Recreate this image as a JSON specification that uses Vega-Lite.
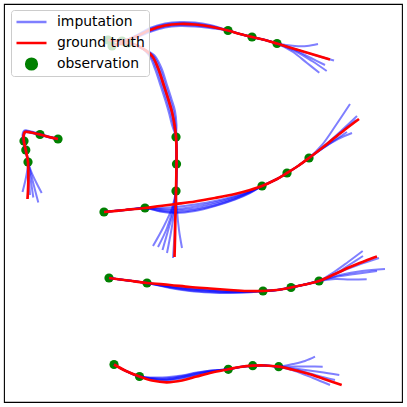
{
 "$schema": "https://vega.github.io/schema/vega-lite/v6.json",
 "width": 398, "height": 398,
 "autosize": "none",
 "padding": {"left": 4, "top": 4, "right": 5, "bottom": 5},
 "background": "white",
 "config": {"view": {"stroke": "#000000", "strokeWidth": 1.1}},
 "datasets": {
  "observed": [
   {"t":"T1","x":58,"y":139},{"t":"T1","x":40,"y":134.5},{"t":"T1","x":24,"y":141},{"t":"T1","x":25.8,"y":150},{"t":"T1","x":28,"y":162},
   {"t":"T2","x":108,"y":40},{"t":"T2","x":122,"y":41},{"t":"T2","x":228,"y":30.5},{"t":"T2","x":252,"y":37},{"t":"T2","x":277,"y":43.5},
   {"t":"T3","x":112,"y":46},{"t":"T3","x":128,"y":43},{"t":"T3","x":176,"y":137},{"t":"T3","x":176.5,"y":164},{"t":"T3","x":176,"y":191},
   {"t":"T4","x":104,"y":212},{"t":"T4","x":145,"y":208},{"t":"T4","x":262,"y":186},{"t":"T4","x":287,"y":173},{"t":"T4","x":309,"y":158},
   {"t":"T5","x":109,"y":278},{"t":"T5","x":147,"y":283},{"t":"T5","x":263,"y":291},{"t":"T5","x":291,"y":287.5},{"t":"T5","x":319,"y":281},
   {"t":"T6","x":114,"y":364.5},{"t":"T6","x":139.5,"y":376.5},{"t":"T6","x":228.3,"y":369.3},{"t":"T6","x":252.7,"y":365.7},{"t":"T6","x":278.7,"y":366.7}
  ],
  "truth": [
   {"t":"T1","i":0,"x":58,"y":139},{"t":"T1","i":1,"x":49,"y":137},{"t":"T1","i":2,"x":40,"y":134.5},{"t":"T1","i":3,"x":31,"y":132.5},{"t":"T1","i":4,"x":25,"y":132},{"t":"T1","i":5,"x":23.5,"y":136},{"t":"T1","i":6,"x":24,"y":142},{"t":"T1","i":7,"x":25.5,"y":149},{"t":"T1","i":8,"x":27,"y":156},{"t":"T1","i":9,"x":28,"y":162},{"t":"T1","i":10,"x":28.3,"y":172},{"t":"T1","i":11,"x":28.3,"y":182},{"t":"T1","i":12,"x":28,"y":191},{"t":"T1","i":13,"x":27.5,"y":199},
   {"t":"T2","i":0,"x":108,"y":40},{"t":"T2","i":1,"x":122,"y":41},{"t":"T2","i":2,"x":135,"y":37},{"t":"T2","i":3,"x":150,"y":30},{"t":"T2","i":4,"x":165,"y":25.5},{"t":"T2","i":5,"x":180,"y":24},{"t":"T2","i":6,"x":195,"y":24.5},{"t":"T2","i":7,"x":210,"y":26.5},{"t":"T2","i":8,"x":228,"y":30.5},{"t":"T2","i":9,"x":240,"y":34},{"t":"T2","i":10,"x":252,"y":37},{"t":"T2","i":11,"x":265,"y":40},{"t":"T2","i":12,"x":277,"y":43.5},{"t":"T2","i":13,"x":293,"y":48.5},{"t":"T2","i":14,"x":310,"y":53.5},{"t":"T2","i":15,"x":330,"y":59.5},
   {"t":"T3","i":0,"x":112,"y":46},{"t":"T3","i":1,"x":128,"y":43},{"t":"T3","i":2,"x":140,"y":47},{"t":"T3","i":3,"x":152,"y":56},{"t":"T3","i":4,"x":158,"y":68},{"t":"T3","i":5,"x":164,"y":86},{"t":"T3","i":6,"x":168.5,"y":100},{"t":"T3","i":7,"x":172,"y":112},{"t":"T3","i":8,"x":174.5,"y":125},{"t":"T3","i":9,"x":176,"y":137},{"t":"T3","i":10,"x":176.5,"y":150},{"t":"T3","i":11,"x":176.5,"y":164},{"t":"T3","i":12,"x":176.3,"y":178},{"t":"T3","i":13,"x":176,"y":191},{"t":"T3","i":14,"x":175.7,"y":205},{"t":"T3","i":15,"x":175.3,"y":220},{"t":"T3","i":16,"x":175,"y":238},{"t":"T3","i":17,"x":174.5,"y":257},
   {"t":"T4","i":0,"x":104,"y":212},{"t":"T4","i":1,"x":125,"y":210},{"t":"T4","i":2,"x":145,"y":208},{"t":"T4","i":3,"x":160,"y":206},{"t":"T4","i":4,"x":176,"y":204},{"t":"T4","i":5,"x":195,"y":201.5},{"t":"T4","i":6,"x":215,"y":198},{"t":"T4","i":7,"x":235,"y":194},{"t":"T4","i":8,"x":250,"y":190},{"t":"T4","i":9,"x":262,"y":186},{"t":"T4","i":10,"x":275,"y":180},{"t":"T4","i":11,"x":287,"y":173},{"t":"T4","i":12,"x":298,"y":166},{"t":"T4","i":13,"x":309,"y":158},{"t":"T4","i":14,"x":322,"y":148},{"t":"T4","i":15,"x":335,"y":137.5},{"t":"T4","i":16,"x":347,"y":128},{"t":"T4","i":17,"x":359,"y":119},
   {"t":"T5","i":0,"x":109,"y":278},{"t":"T5","i":1,"x":128,"y":280.5},{"t":"T5","i":2,"x":147,"y":283},{"t":"T5","i":3,"x":170,"y":285},{"t":"T5","i":4,"x":190,"y":287},{"t":"T5","i":5,"x":210,"y":288.5},{"t":"T5","i":6,"x":230,"y":290},{"t":"T5","i":7,"x":247,"y":291},{"t":"T5","i":8,"x":263,"y":291},{"t":"T5","i":9,"x":277,"y":290},{"t":"T5","i":10,"x":291,"y":287.5},{"t":"T5","i":11,"x":305,"y":284.5},{"t":"T5","i":12,"x":319,"y":281},{"t":"T5","i":13,"x":335,"y":274},{"t":"T5","i":14,"x":350,"y":267},{"t":"T5","i":15,"x":365,"y":261},{"t":"T5","i":16,"x":377,"y":256.5},
   {"t":"T6","i":0,"x":114,"y":364.5},{"t":"T6","i":1,"x":126,"y":371},{"t":"T6","i":2,"x":139.5,"y":376.5},{"t":"T6","i":3,"x":152,"y":380.5},{"t":"T6","i":4,"x":166.7,"y":382.3},{"t":"T6","i":5,"x":182,"y":380.5},{"t":"T6","i":6,"x":196.7,"y":376.5},{"t":"T6","i":7,"x":212,"y":372.5},{"t":"T6","i":8,"x":228.3,"y":369.3},{"t":"T6","i":9,"x":240,"y":367},{"t":"T6","i":10,"x":252.7,"y":365.7},{"t":"T6","i":11,"x":265,"y":365.5},{"t":"T6","i":12,"x":278.7,"y":366.7},{"t":"T6","i":13,"x":292,"y":369.5},{"t":"T6","i":14,"x":306.7,"y":373.3},{"t":"T6","i":15,"x":324,"y":379},{"t":"T6","i":16,"x":341.7,"y":385}
  ],
  "imputed": [
   {"t":"T1","s":1,"i":0,"x":58,"y":139},{"t":"T1","s":1,"i":1,"x":49,"y":136.5},{"t":"T1","s":1,"i":2,"x":40,"y":134},{"t":"T1","s":1,"i":3,"x":31,"y":131.5},{"t":"T1","s":1,"i":4,"x":24.5,"y":130.5},{"t":"T1","s":1,"i":5,"x":22.5,"y":135},{"t":"T1","s":1,"i":6,"x":23.5,"y":142},{"t":"T1","s":1,"i":7,"x":25,"y":149},{"t":"T1","s":1,"i":8,"x":26.7,"y":156},{"t":"T1","s":1,"i":9,"x":28,"y":162},{"t":"T1","s":1,"i":10,"x":27,"y":172},{"t":"T1","s":1,"i":11,"x":25,"y":182},{"t":"T1","s":1,"i":12,"x":22.5,"y":192},
   {"t":"T1","s":2,"i":0,"x":58,"y":139},{"t":"T1","s":2,"i":1,"x":49,"y":137},{"t":"T1","s":2,"i":2,"x":40,"y":134.5},{"t":"T1","s":2,"i":3,"x":31,"y":132},{"t":"T1","s":2,"i":4,"x":25,"y":131},{"t":"T1","s":2,"i":5,"x":23,"y":136},{"t":"T1","s":2,"i":6,"x":24,"y":142},{"t":"T1","s":2,"i":7,"x":25.5,"y":149},{"t":"T1","s":2,"i":8,"x":27,"y":156},{"t":"T1","s":2,"i":9,"x":28,"y":162},{"t":"T1","s":2,"i":10,"x":28.5,"y":172},{"t":"T1","s":2,"i":11,"x":29.3,"y":184},{"t":"T1","s":2,"i":12,"x":30,"y":195},
   {"t":"T1","s":3,"i":0,"x":58,"y":139},{"t":"T1","s":3,"i":1,"x":49,"y":137.5},{"t":"T1","s":3,"i":2,"x":40,"y":135},{"t":"T1","s":3,"i":3,"x":31,"y":133},{"t":"T1","s":3,"i":4,"x":25.5,"y":132.5},{"t":"T1","s":3,"i":5,"x":24,"y":136.5},{"t":"T1","s":3,"i":6,"x":24.5,"y":142},{"t":"T1","s":3,"i":7,"x":25.8,"y":149},{"t":"T1","s":3,"i":8,"x":27.2,"y":156},{"t":"T1","s":3,"i":9,"x":28,"y":162},{"t":"T1","s":3,"i":10,"x":29.5,"y":172},{"t":"T1","s":3,"i":11,"x":31.5,"y":185},{"t":"T1","s":3,"i":12,"x":33.3,"y":197.5},
   {"t":"T1","s":4,"i":0,"x":58,"y":139},{"t":"T1","s":4,"i":1,"x":49,"y":137},{"t":"T1","s":4,"i":2,"x":40,"y":134.5},{"t":"T1","s":4,"i":3,"x":31,"y":132.5},{"t":"T1","s":4,"i":4,"x":25,"y":132},{"t":"T1","s":4,"i":5,"x":23.5,"y":136},{"t":"T1","s":4,"i":6,"x":24,"y":142},{"t":"T1","s":4,"i":7,"x":25.5,"y":149},{"t":"T1","s":4,"i":8,"x":27,"y":156},{"t":"T1","s":4,"i":9,"x":28,"y":162},{"t":"T1","s":4,"i":10,"x":30.5,"y":172},{"t":"T1","s":4,"i":11,"x":34,"y":186},{"t":"T1","s":4,"i":12,"x":38.3,"y":202.5},
   {"t":"T1","s":5,"i":0,"x":58,"y":139},{"t":"T1","s":5,"i":1,"x":49,"y":137},{"t":"T1","s":5,"i":2,"x":40,"y":134.5},{"t":"T1","s":5,"i":3,"x":31,"y":132.5},{"t":"T1","s":5,"i":4,"x":25,"y":132},{"t":"T1","s":5,"i":5,"x":23.5,"y":136},{"t":"T1","s":5,"i":6,"x":24,"y":142},{"t":"T1","s":5,"i":7,"x":25.5,"y":149},{"t":"T1","s":5,"i":8,"x":27,"y":156},{"t":"T1","s":5,"i":9,"x":28,"y":162},{"t":"T1","s":5,"i":10,"x":31,"y":171},{"t":"T1","s":5,"i":11,"x":36,"y":182},{"t":"T1","s":5,"i":12,"x":41.7,"y":193},

   {"t":"T2","s":1,"i":0,"x":108,"y":40},{"t":"T2","s":1,"i":1,"x":122,"y":41},{"t":"T2","s":1,"i":2,"x":135,"y":36},{"t":"T2","s":1,"i":3,"x":150,"y":28},{"t":"T2","s":1,"i":4,"x":165,"y":23.5},{"t":"T2","s":1,"i":5,"x":180,"y":22},{"t":"T2","s":1,"i":6,"x":195,"y":22.5},{"t":"T2","s":1,"i":7,"x":210,"y":25},{"t":"T2","s":1,"i":8,"x":228,"y":30.5},{"t":"T2","s":1,"i":9,"x":240,"y":34},{"t":"T2","s":1,"i":10,"x":252,"y":37},{"t":"T2","s":1,"i":11,"x":265,"y":40},{"t":"T2","s":1,"i":12,"x":277,"y":43.5},{"t":"T2","s":1,"i":13,"x":295,"y":46},{"t":"T2","s":1,"i":14,"x":307,"y":46},{"t":"T2","s":1,"i":15,"x":318,"y":44},
   {"t":"T2","s":2,"i":0,"x":108,"y":40},{"t":"T2","s":2,"i":1,"x":122,"y":41},{"t":"T2","s":2,"i":2,"x":135,"y":36.5},{"t":"T2","s":2,"i":3,"x":150,"y":29},{"t":"T2","s":2,"i":4,"x":165,"y":24.5},{"t":"T2","s":2,"i":5,"x":180,"y":23},{"t":"T2","s":2,"i":6,"x":195,"y":23.5},{"t":"T2","s":2,"i":7,"x":210,"y":25.8},{"t":"T2","s":2,"i":8,"x":228,"y":30.5},{"t":"T2","s":2,"i":9,"x":240,"y":34},{"t":"T2","s":2,"i":10,"x":252,"y":37},{"t":"T2","s":2,"i":11,"x":265,"y":40},{"t":"T2","s":2,"i":12,"x":277,"y":43.5},{"t":"T2","s":2,"i":13,"x":298,"y":50},{"t":"T2","s":2,"i":14,"x":316,"y":55.5},{"t":"T2","s":2,"i":15,"x":334,"y":60.5},
   {"t":"T2","s":3,"i":0,"x":108,"y":40},{"t":"T2","s":3,"i":1,"x":122,"y":41},{"t":"T2","s":3,"i":2,"x":135,"y":37},{"t":"T2","s":3,"i":3,"x":150,"y":30},{"t":"T2","s":3,"i":4,"x":165,"y":25.5},{"t":"T2","s":3,"i":5,"x":180,"y":24},{"t":"T2","s":3,"i":6,"x":195,"y":24.5},{"t":"T2","s":3,"i":7,"x":210,"y":26.5},{"t":"T2","s":3,"i":8,"x":228,"y":30.5},{"t":"T2","s":3,"i":9,"x":240,"y":34},{"t":"T2","s":3,"i":10,"x":252,"y":37},{"t":"T2","s":3,"i":11,"x":265,"y":40},{"t":"T2","s":3,"i":12,"x":277,"y":43.5},{"t":"T2","s":3,"i":13,"x":295,"y":51},{"t":"T2","s":3,"i":14,"x":312,"y":61},{"t":"T2","s":3,"i":15,"x":326.7,"y":71},
   {"t":"T2","s":4,"i":0,"x":108,"y":40},{"t":"T2","s":4,"i":1,"x":122,"y":41},{"t":"T2","s":4,"i":2,"x":135,"y":37.5},{"t":"T2","s":4,"i":3,"x":150,"y":31},{"t":"T2","s":4,"i":4,"x":165,"y":26.5},{"t":"T2","s":4,"i":5,"x":180,"y":25},{"t":"T2","s":4,"i":6,"x":195,"y":25.5},{"t":"T2","s":4,"i":7,"x":210,"y":27.2},{"t":"T2","s":4,"i":8,"x":228,"y":30.5},{"t":"T2","s":4,"i":9,"x":240,"y":34},{"t":"T2","s":4,"i":10,"x":252,"y":37},{"t":"T2","s":4,"i":11,"x":265,"y":40},{"t":"T2","s":4,"i":12,"x":277,"y":43.5},{"t":"T2","s":4,"i":13,"x":293,"y":52},{"t":"T2","s":4,"i":14,"x":307,"y":63},{"t":"T2","s":4,"i":15,"x":319.3,"y":72.7},
   {"t":"T2","s":5,"i":0,"x":108,"y":40},{"t":"T2","s":5,"i":1,"x":122,"y":41},{"t":"T2","s":5,"i":2,"x":135,"y":38},{"t":"T2","s":5,"i":3,"x":150,"y":32},{"t":"T2","s":5,"i":4,"x":165,"y":27.5},{"t":"T2","s":5,"i":5,"x":180,"y":26},{"t":"T2","s":5,"i":6,"x":195,"y":26.5},{"t":"T2","s":5,"i":7,"x":210,"y":28},{"t":"T2","s":5,"i":8,"x":228,"y":30.5},{"t":"T2","s":5,"i":9,"x":240,"y":34},{"t":"T2","s":5,"i":10,"x":252,"y":37},{"t":"T2","s":5,"i":11,"x":265,"y":40},{"t":"T2","s":5,"i":12,"x":277,"y":43.5},{"t":"T2","s":5,"i":13,"x":295,"y":50},{"t":"T2","s":5,"i":14,"x":311,"y":58},{"t":"T2","s":5,"i":15,"x":325,"y":65},

   {"t":"T3","s":1,"i":0,"x":112,"y":46},{"t":"T3","s":1,"i":1,"x":128,"y":43},{"t":"T3","s":1,"i":2,"x":139,"y":46},{"t":"T3","s":1,"i":3,"x":150,"y":57},{"t":"T3","s":1,"i":4,"x":155,"y":69},{"t":"T3","s":1,"i":5,"x":161,"y":87},{"t":"T3","s":1,"i":6,"x":165.5,"y":101},{"t":"T3","s":1,"i":7,"x":169,"y":113},{"t":"T3","s":1,"i":8,"x":172,"y":125},{"t":"T3","s":1,"i":9,"x":176,"y":137},{"t":"T3","s":1,"i":10,"x":176.5,"y":150},{"t":"T3","s":1,"i":11,"x":176.5,"y":164},{"t":"T3","s":1,"i":12,"x":176.3,"y":178},{"t":"T3","s":1,"i":13,"x":176,"y":191},{"t":"T3","s":1,"i":14,"x":172,"y":208},{"t":"T3","s":1,"i":15,"x":164,"y":226},{"t":"T3","s":1,"i":16,"x":153,"y":246},
   {"t":"T3","s":2,"i":0,"x":112,"y":46},{"t":"T3","s":2,"i":1,"x":128,"y":43},{"t":"T3","s":2,"i":2,"x":139.5,"y":46.5},{"t":"T3","s":2,"i":3,"x":151,"y":56.5},{"t":"T3","s":2,"i":4,"x":156.5,"y":68.5},{"t":"T3","s":2,"i":5,"x":162.5,"y":86.5},{"t":"T3","s":2,"i":6,"x":167,"y":100.5},{"t":"T3","s":2,"i":7,"x":170.5,"y":112.5},{"t":"T3","s":2,"i":8,"x":173.5,"y":125},{"t":"T3","s":2,"i":9,"x":176,"y":137},{"t":"T3","s":2,"i":10,"x":176.5,"y":150},{"t":"T3","s":2,"i":11,"x":176.5,"y":164},{"t":"T3","s":2,"i":12,"x":176.3,"y":178},{"t":"T3","s":2,"i":13,"x":176,"y":191},{"t":"T3","s":2,"i":14,"x":173,"y":208},{"t":"T3","s":2,"i":15,"x":167,"y":228},{"t":"T3","s":2,"i":16,"x":158,"y":247},
   {"t":"T3","s":3,"i":0,"x":112,"y":46},{"t":"T3","s":3,"i":1,"x":128,"y":43},{"t":"T3","s":3,"i":2,"x":140,"y":47},{"t":"T3","s":3,"i":3,"x":152,"y":56},{"t":"T3","s":3,"i":4,"x":158,"y":68},{"t":"T3","s":3,"i":5,"x":164,"y":86},{"t":"T3","s":3,"i":6,"x":168.5,"y":100},{"t":"T3","s":3,"i":7,"x":172,"y":112},{"t":"T3","s":3,"i":8,"x":174.5,"y":125},{"t":"T3","s":3,"i":9,"x":176,"y":137},{"t":"T3","s":3,"i":10,"x":176.5,"y":150},{"t":"T3","s":3,"i":11,"x":176.5,"y":164},{"t":"T3","s":3,"i":12,"x":176.3,"y":178},{"t":"T3","s":3,"i":13,"x":176,"y":191},{"t":"T3","s":3,"i":14,"x":174.5,"y":210},{"t":"T3","s":3,"i":15,"x":171,"y":232},{"t":"T3","s":3,"i":16,"x":167,"y":253},
   {"t":"T3","s":4,"i":0,"x":112,"y":46},{"t":"T3","s":4,"i":1,"x":128,"y":43},{"t":"T3","s":4,"i":2,"x":140.5,"y":47.5},{"t":"T3","s":4,"i":3,"x":153,"y":55.5},{"t":"T3","s":4,"i":4,"x":159.5,"y":67.5},{"t":"T3","s":4,"i":5,"x":165.5,"y":85.5},{"t":"T3","s":4,"i":6,"x":170,"y":99.5},{"t":"T3","s":4,"i":7,"x":173.5,"y":111.5},{"t":"T3","s":4,"i":8,"x":175.5,"y":125},{"t":"T3","s":4,"i":9,"x":176,"y":137},{"t":"T3","s":4,"i":10,"x":176.5,"y":150},{"t":"T3","s":4,"i":11,"x":176.5,"y":164},{"t":"T3","s":4,"i":12,"x":176.3,"y":178},{"t":"T3","s":4,"i":13,"x":176,"y":191},{"t":"T3","s":4,"i":14,"x":175.5,"y":210},{"t":"T3","s":4,"i":15,"x":174.5,"y":234},{"t":"T3","s":4,"i":16,"x":173,"y":258},
   {"t":"T3","s":5,"i":0,"x":112,"y":46},{"t":"T3","s":5,"i":1,"x":128,"y":43},{"t":"T3","s":5,"i":2,"x":141,"y":48},{"t":"T3","s":5,"i":3,"x":154,"y":55},{"t":"T3","s":5,"i":4,"x":161,"y":67},{"t":"T3","s":5,"i":5,"x":167,"y":85},{"t":"T3","s":5,"i":6,"x":171.5,"y":99},{"t":"T3","s":5,"i":7,"x":175,"y":111},{"t":"T3","s":5,"i":8,"x":176.5,"y":125},{"t":"T3","s":5,"i":9,"x":176,"y":137},{"t":"T3","s":5,"i":10,"x":176.5,"y":150},{"t":"T3","s":5,"i":11,"x":176.5,"y":164},{"t":"T3","s":5,"i":12,"x":176.3,"y":178},{"t":"T3","s":5,"i":13,"x":176,"y":191},{"t":"T3","s":5,"i":14,"x":177,"y":210},{"t":"T3","s":5,"i":15,"x":179,"y":230},{"t":"T3","s":5,"i":16,"x":182,"y":248},
   {"t":"T3","s":6,"i":0,"x":176,"y":137},{"t":"T3","s":6,"i":1,"x":176.5,"y":150},{"t":"T3","s":6,"i":2,"x":176.5,"y":164},{"t":"T3","s":6,"i":3,"x":176.3,"y":178},{"t":"T3","s":6,"i":4,"x":176,"y":191},{"t":"T3","s":6,"i":5,"x":174,"y":209},{"t":"T3","s":6,"i":6,"x":168.5,"y":229},{"t":"T3","s":6,"i":7,"x":162.5,"y":250},

   {"t":"T4","s":1,"i":0,"x":104,"y":212},{"t":"T4","s":1,"i":1,"x":125,"y":210},{"t":"T4","s":1,"i":2,"x":145,"y":208},{"t":"T4","s":1,"i":3,"x":160,"y":208},{"t":"T4","s":1,"i":4,"x":176,"y":207},{"t":"T4","s":1,"i":5,"x":195,"y":204.5},{"t":"T4","s":1,"i":6,"x":215,"y":201},{"t":"T4","s":1,"i":7,"x":235,"y":196},{"t":"T4","s":1,"i":8,"x":250,"y":191},{"t":"T4","s":1,"i":9,"x":262,"y":186},{"t":"T4","s":1,"i":10,"x":275,"y":180},{"t":"T4","s":1,"i":11,"x":287,"y":173},{"t":"T4","s":1,"i":12,"x":298,"y":166},{"t":"T4","s":1,"i":13,"x":309,"y":158},{"t":"T4","s":1,"i":14,"x":322,"y":145},{"t":"T4","s":1,"i":15,"x":336,"y":125},{"t":"T4","s":1,"i":16,"x":350,"y":104},
   {"t":"T4","s":2,"i":0,"x":104,"y":212},{"t":"T4","s":2,"i":1,"x":125,"y":210},{"t":"T4","s":2,"i":2,"x":145,"y":208},{"t":"T4","s":2,"i":3,"x":160,"y":209},{"t":"T4","s":2,"i":4,"x":176,"y":209},{"t":"T4","s":2,"i":5,"x":195,"y":206.5},{"t":"T4","s":2,"i":6,"x":215,"y":202.5},{"t":"T4","s":2,"i":7,"x":235,"y":197},{"t":"T4","s":2,"i":8,"x":250,"y":191.5},{"t":"T4","s":2,"i":9,"x":262,"y":186},{"t":"T4","s":2,"i":10,"x":275,"y":180},{"t":"T4","s":2,"i":11,"x":287,"y":173},{"t":"T4","s":2,"i":12,"x":298,"y":166},{"t":"T4","s":2,"i":13,"x":309,"y":158},{"t":"T4","s":2,"i":14,"x":324,"y":146},{"t":"T4","s":2,"i":15,"x":341,"y":131},{"t":"T4","s":2,"i":16,"x":357,"y":116},
   {"t":"T4","s":3,"i":0,"x":104,"y":212},{"t":"T4","s":3,"i":1,"x":125,"y":210},{"t":"T4","s":3,"i":2,"x":145,"y":208},{"t":"T4","s":3,"i":3,"x":160,"y":210},{"t":"T4","s":3,"i":4,"x":176,"y":210.5},{"t":"T4","s":3,"i":5,"x":195,"y":208.5},{"t":"T4","s":3,"i":6,"x":215,"y":204},{"t":"T4","s":3,"i":7,"x":235,"y":198},{"t":"T4","s":3,"i":8,"x":250,"y":192},{"t":"T4","s":3,"i":9,"x":262,"y":186},{"t":"T4","s":3,"i":10,"x":275,"y":180},{"t":"T4","s":3,"i":11,"x":287,"y":173},{"t":"T4","s":3,"i":12,"x":298,"y":166},{"t":"T4","s":3,"i":13,"x":309,"y":158},{"t":"T4","s":3,"i":14,"x":323,"y":148},{"t":"T4","s":3,"i":15,"x":338,"y":139},{"t":"T4","s":3,"i":16,"x":352,"y":133},
   {"t":"T4","s":4,"i":0,"x":104,"y":212},{"t":"T4","s":4,"i":1,"x":125,"y":210},{"t":"T4","s":4,"i":2,"x":145,"y":208},{"t":"T4","s":4,"i":3,"x":160,"y":211},{"t":"T4","s":4,"i":4,"x":176,"y":212},{"t":"T4","s":4,"i":5,"x":195,"y":210},{"t":"T4","s":4,"i":6,"x":215,"y":205.5},{"t":"T4","s":4,"i":7,"x":235,"y":199},{"t":"T4","s":4,"i":8,"x":250,"y":192.5},{"t":"T4","s":4,"i":9,"x":262,"y":186},{"t":"T4","s":4,"i":10,"x":275,"y":180},{"t":"T4","s":4,"i":11,"x":287,"y":173},{"t":"T4","s":4,"i":12,"x":298,"y":166},{"t":"T4","s":4,"i":13,"x":309,"y":158},{"t":"T4","s":4,"i":14,"x":322,"y":149},{"t":"T4","s":4,"i":15,"x":335,"y":140},{"t":"T4","s":4,"i":16,"x":347,"y":132},
   {"t":"T4","s":5,"i":0,"x":104,"y":212},{"t":"T4","s":5,"i":1,"x":125,"y":210},{"t":"T4","s":5,"i":2,"x":145,"y":208},{"t":"T4","s":5,"i":3,"x":160,"y":211.5},{"t":"T4","s":5,"i":4,"x":176,"y":213},{"t":"T4","s":5,"i":5,"x":195,"y":211},{"t":"T4","s":5,"i":6,"x":215,"y":206},{"t":"T4","s":5,"i":7,"x":235,"y":199.5},{"t":"T4","s":5,"i":8,"x":250,"y":193},{"t":"T4","s":5,"i":9,"x":262,"y":186},{"t":"T4","s":5,"i":10,"x":275,"y":180},{"t":"T4","s":5,"i":11,"x":287,"y":173},{"t":"T4","s":5,"i":12,"x":298,"y":166},{"t":"T4","s":5,"i":13,"x":309,"y":158},{"t":"T4","s":5,"i":14,"x":324,"y":147},{"t":"T4","s":5,"i":15,"x":340,"y":133},{"t":"T4","s":5,"i":16,"x":356,"y":120},

   {"t":"T5","s":1,"i":0,"x":109,"y":278},{"t":"T5","s":1,"i":1,"x":128,"y":280.5},{"t":"T5","s":1,"i":2,"x":147,"y":283},{"t":"T5","s":1,"i":3,"x":170,"y":286},{"t":"T5","s":1,"i":4,"x":190,"y":288.5},{"t":"T5","s":1,"i":5,"x":210,"y":290},{"t":"T5","s":1,"i":6,"x":230,"y":291},{"t":"T5","s":1,"i":7,"x":247,"y":291.5},{"t":"T5","s":1,"i":8,"x":263,"y":291},{"t":"T5","s":1,"i":9,"x":277,"y":290},{"t":"T5","s":1,"i":10,"x":291,"y":287.5},{"t":"T5","s":1,"i":11,"x":305,"y":284.5},{"t":"T5","s":1,"i":12,"x":319,"y":281},{"t":"T5","s":1,"i":13,"x":334,"y":272},{"t":"T5","s":1,"i":14,"x":348,"y":262},{"t":"T5","s":1,"i":15,"x":362.7,"y":251},
   {"t":"T5","s":2,"i":0,"x":109,"y":278},{"t":"T5","s":2,"i":1,"x":128,"y":280.5},{"t":"T5","s":2,"i":2,"x":147,"y":283},{"t":"T5","s":2,"i":3,"x":170,"y":287},{"t":"T5","s":2,"i":4,"x":190,"y":289.5},{"t":"T5","s":2,"i":5,"x":210,"y":291},{"t":"T5","s":2,"i":6,"x":230,"y":292},{"t":"T5","s":2,"i":7,"x":247,"y":292},{"t":"T5","s":2,"i":8,"x":263,"y":291},{"t":"T5","s":2,"i":9,"x":277,"y":290},{"t":"T5","s":2,"i":10,"x":291,"y":287.5},{"t":"T5","s":2,"i":11,"x":305,"y":284.5},{"t":"T5","s":2,"i":12,"x":319,"y":281},{"t":"T5","s":2,"i":13,"x":337,"y":273},{"t":"T5","s":2,"i":14,"x":358,"y":265},{"t":"T5","s":2,"i":15,"x":379,"y":258},
   {"t":"T5","s":3,"i":0,"x":109,"y":278},{"t":"T5","s":3,"i":1,"x":128,"y":280.5},{"t":"T5","s":3,"i":2,"x":147,"y":283},{"t":"T5","s":3,"i":3,"x":170,"y":287.5},{"t":"T5","s":3,"i":4,"x":190,"y":290.5},{"t":"T5","s":3,"i":5,"x":210,"y":292},{"t":"T5","s":3,"i":6,"x":230,"y":292.5},{"t":"T5","s":3,"i":7,"x":247,"y":292},{"t":"T5","s":3,"i":8,"x":263,"y":291},{"t":"T5","s":3,"i":9,"x":277,"y":290},{"t":"T5","s":3,"i":10,"x":291,"y":287.5},{"t":"T5","s":3,"i":11,"x":305,"y":284.5},{"t":"T5","s":3,"i":12,"x":319,"y":281},{"t":"T5","s":3,"i":13,"x":340,"y":275},{"t":"T5","s":3,"i":14,"x":362,"y":271},{"t":"T5","s":3,"i":15,"x":385,"y":269},
   {"t":"T5","s":4,"i":0,"x":109,"y":278},{"t":"T5","s":4,"i":1,"x":128,"y":280.5},{"t":"T5","s":4,"i":2,"x":147,"y":283},{"t":"T5","s":4,"i":3,"x":170,"y":288},{"t":"T5","s":4,"i":4,"x":190,"y":291},{"t":"T5","s":4,"i":5,"x":210,"y":292.5},{"t":"T5","s":4,"i":6,"x":230,"y":293},{"t":"T5","s":4,"i":7,"x":247,"y":292.5},{"t":"T5","s":4,"i":8,"x":263,"y":291},{"t":"T5","s":4,"i":9,"x":277,"y":290},{"t":"T5","s":4,"i":10,"x":291,"y":287.5},{"t":"T5","s":4,"i":11,"x":305,"y":284.5},{"t":"T5","s":4,"i":12,"x":319,"y":281},{"t":"T5","s":4,"i":13,"x":335,"y":277},{"t":"T5","s":4,"i":14,"x":355,"y":274},{"t":"T5","s":4,"i":15,"x":377,"y":271},
   {"t":"T5","s":5,"i":0,"x":109,"y":278},{"t":"T5","s":5,"i":1,"x":128,"y":280.5},{"t":"T5","s":5,"i":2,"x":147,"y":283},{"t":"T5","s":5,"i":3,"x":170,"y":286.5},{"t":"T5","s":5,"i":4,"x":190,"y":289},{"t":"T5","s":5,"i":5,"x":210,"y":290.5},{"t":"T5","s":5,"i":6,"x":230,"y":291.5},{"t":"T5","s":5,"i":7,"x":247,"y":291.5},{"t":"T5","s":5,"i":8,"x":263,"y":291},{"t":"T5","s":5,"i":9,"x":277,"y":290},{"t":"T5","s":5,"i":10,"x":291,"y":287.5},{"t":"T5","s":5,"i":11,"x":305,"y":284.5},{"t":"T5","s":5,"i":12,"x":319,"y":281},{"t":"T5","s":5,"i":13,"x":335,"y":279},{"t":"T5","s":5,"i":14,"x":350,"y":279.5},{"t":"T5","s":5,"i":15,"x":366.7,"y":279.3},
   {"t":"T5","s":6,"i":0,"x":263,"y":291},{"t":"T5","s":6,"i":1,"x":277,"y":290},{"t":"T5","s":6,"i":2,"x":291,"y":287.5},{"t":"T5","s":6,"i":3,"x":305,"y":284.5},{"t":"T5","s":6,"i":4,"x":319,"y":281},{"t":"T5","s":6,"i":5,"x":335,"y":274},{"t":"T5","s":6,"i":6,"x":349,"y":265},{"t":"T5","s":6,"i":7,"x":363,"y":256},

   {"t":"T6","s":1,"i":0,"x":114,"y":364.5},{"t":"T6","s":1,"i":1,"x":126,"y":371},{"t":"T6","s":1,"i":2,"x":139.5,"y":376.5},{"t":"T6","s":1,"i":3,"x":152,"y":379.5},{"t":"T6","s":1,"i":4,"x":166.7,"y":380.3},{"t":"T6","s":1,"i":5,"x":182,"y":378.5},{"t":"T6","s":1,"i":6,"x":196.7,"y":375},{"t":"T6","s":1,"i":7,"x":212,"y":371.5},{"t":"T6","s":1,"i":8,"x":228.3,"y":369.3},{"t":"T6","s":1,"i":9,"x":240,"y":367},{"t":"T6","s":1,"i":10,"x":252.7,"y":365.7},{"t":"T6","s":1,"i":11,"x":265,"y":365.5},{"t":"T6","s":1,"i":12,"x":278.7,"y":366.7},{"t":"T6","s":1,"i":13,"x":293,"y":364},{"t":"T6","s":1,"i":14,"x":305,"y":361},{"t":"T6","s":1,"i":15,"x":315,"y":356.7},
   {"t":"T6","s":2,"i":0,"x":114,"y":364.5},{"t":"T6","s":2,"i":1,"x":126,"y":371},{"t":"T6","s":2,"i":2,"x":139.5,"y":376.5},{"t":"T6","s":2,"i":3,"x":152,"y":378.5},{"t":"T6","s":2,"i":4,"x":166.7,"y":379.3},{"t":"T6","s":2,"i":5,"x":182,"y":377},{"t":"T6","s":2,"i":6,"x":196.7,"y":373.5},{"t":"T6","s":2,"i":7,"x":212,"y":371},{"t":"T6","s":2,"i":8,"x":228.3,"y":369.3},{"t":"T6","s":2,"i":9,"x":240,"y":367},{"t":"T6","s":2,"i":10,"x":252.7,"y":365.7},{"t":"T6","s":2,"i":11,"x":265,"y":365.5},{"t":"T6","s":2,"i":12,"x":278.7,"y":366.7},{"t":"T6","s":2,"i":13,"x":295,"y":366.5},{"t":"T6","s":2,"i":14,"x":310,"y":366.5},{"t":"T6","s":2,"i":15,"x":322.7,"y":366.7},
   {"t":"T6","s":3,"i":0,"x":114,"y":364.5},{"t":"T6","s":3,"i":1,"x":126,"y":371},{"t":"T6","s":3,"i":2,"x":139.5,"y":376.5},{"t":"T6","s":3,"i":3,"x":152,"y":378},{"t":"T6","s":3,"i":4,"x":166.7,"y":378.3},{"t":"T6","s":3,"i":5,"x":182,"y":376},{"t":"T6","s":3,"i":6,"x":196.7,"y":373},{"t":"T6","s":3,"i":7,"x":212,"y":370.5},{"t":"T6","s":3,"i":8,"x":228.3,"y":369.3},{"t":"T6","s":3,"i":9,"x":240,"y":367},{"t":"T6","s":3,"i":10,"x":252.7,"y":365.7},{"t":"T6","s":3,"i":11,"x":265,"y":365.5},{"t":"T6","s":3,"i":12,"x":278.7,"y":366.7},{"t":"T6","s":3,"i":13,"x":298,"y":369},{"t":"T6","s":3,"i":14,"x":320,"y":372},{"t":"T6","s":3,"i":15,"x":339.3,"y":375},
   {"t":"T6","s":4,"i":0,"x":114,"y":364.5},{"t":"T6","s":4,"i":1,"x":126,"y":371},{"t":"T6","s":4,"i":2,"x":139.5,"y":376.5},{"t":"T6","s":4,"i":3,"x":152,"y":377.5},{"t":"T6","s":4,"i":4,"x":166.7,"y":377.3},{"t":"T6","s":4,"i":5,"x":182,"y":375.5},{"t":"T6","s":4,"i":6,"x":196.7,"y":372.5},{"t":"T6","s":4,"i":7,"x":212,"y":370.5},{"t":"T6","s":4,"i":8,"x":228.3,"y":369.3},{"t":"T6","s":4,"i":9,"x":240,"y":367},{"t":"T6","s":4,"i":10,"x":252.7,"y":365.7},{"t":"T6","s":4,"i":11,"x":265,"y":365.5},{"t":"T6","s":4,"i":12,"x":278.7,"y":366.7},{"t":"T6","s":4,"i":13,"x":295,"y":371},{"t":"T6","s":4,"i":14,"x":313,"y":378},{"t":"T6","s":4,"i":15,"x":330,"y":385},
   {"t":"T6","s":5,"i":0,"x":114,"y":364.5},{"t":"T6","s":5,"i":1,"x":126,"y":371},{"t":"T6","s":5,"i":2,"x":139.5,"y":376.5},{"t":"T6","s":5,"i":3,"x":152,"y":379},{"t":"T6","s":5,"i":4,"x":166.7,"y":379.8},{"t":"T6","s":5,"i":5,"x":182,"y":377.5},{"t":"T6","s":5,"i":6,"x":196.7,"y":374.5},{"t":"T6","s":5,"i":7,"x":212,"y":371.5},{"t":"T6","s":5,"i":8,"x":228.3,"y":369.3},{"t":"T6","s":5,"i":9,"x":240,"y":367},{"t":"T6","s":5,"i":10,"x":252.7,"y":365.7},{"t":"T6","s":5,"i":11,"x":265,"y":365.5},{"t":"T6","s":5,"i":12,"x":278.7,"y":366.7},{"t":"T6","s":5,"i":13,"x":297,"y":370},{"t":"T6","s":5,"i":14,"x":317,"y":375.5},{"t":"T6","s":5,"i":15,"x":335,"y":380}
  ]
 },
 "encoding": {
  "x": {"field": "x", "type": "quantitative", "scale": {"domain": [4, 402], "nice": false, "zero": false}, "axis": null},
  "y": {"field": "y", "type": "quantitative", "scale": {"domain": [4, 402], "nice": false, "zero": false, "reverse": true}, "axis": null}
 },
 "layer": [
  {
   "data": {"name": "observed"},
   "mark": {"type": "point", "filled": true, "size": 85, "opacity": 1, "shape": "circle"},
   "encoding": {
    "color": {"datum": "observation", "type": "nominal",
     "scale": {"domain": ["imputation", "ground truth", "observation"], "range": ["#0000ff", "#ff0000", "#008000"]},
     "legend": {
      "title": null, "orient": "none", "legendX": 7, "legendY": 6, "zindex": 1,
      "fillColor": "rgba(255,255,255,0.8)", "strokeColor": "#cccccc", "cornerRadius": 3,
      "padding": 4, "rowPadding": 5, "clipHeight": 16, "symbolSize": 900, "labelOffset": 9,
      "labelFont": "DejaVu Sans", "labelFontSize": 13.9, "labelColor": "#000000", "symbolStrokeWidth": 2.4,
      "encoding": {
       "legend": {
        "fill": {"value": "rgba(255,255,255,0.8)"},
        "stroke": {"value": "#cccccc"},
        "strokeWidth": {"value": 1},
        "cornerRadius": {"value": 3}
       },
       "symbols": {
        "shape": {"value": {"expr": "datum.value === 'observation' ? 'M0.36,0A0.36,0.36,0,1,1,-0.36,0A0.36,0.36,0,1,1,0.36,0Z' : 'stroke'"}},
        "size": {"value": 900},
        "stroke": {"value": {"expr": "datum.value === 'imputation' ? '#0000ff' : (datum.value === 'ground truth' ? '#ff0000' : 'transparent')"}},
        "strokeOpacity": {"value": {"expr": "datum.value === 'imputation' ? 0.5 : 1"}},
        "strokeWidth": {"value": 2.4},
        "opacity": {"value": 1}
       }
      }
     }
    }
   }
  },
  {
   "data": {"name": "imputed"},
   "mark": {"type": "line", "interpolate": "catmull-rom", "strokeWidth": 2, "opacity": 0.5},
   "encoding": {
    "color": {"datum": "imputation", "type": "nominal", "legend": null},
    "detail": [{"field": "t"}, {"field": "s"}],
    "order": {"field": "i", "type": "quantitative"}
   }
  },
  {
   "data": {"name": "truth"},
   "mark": {"type": "line", "interpolate": "catmull-rom", "strokeWidth": 2.7},
   "encoding": {
    "color": {"datum": "ground truth", "type": "nominal", "legend": null},
    "detail": {"field": "t"},
    "order": {"field": "i", "type": "quantitative"}
   }
  }
 ]
}
